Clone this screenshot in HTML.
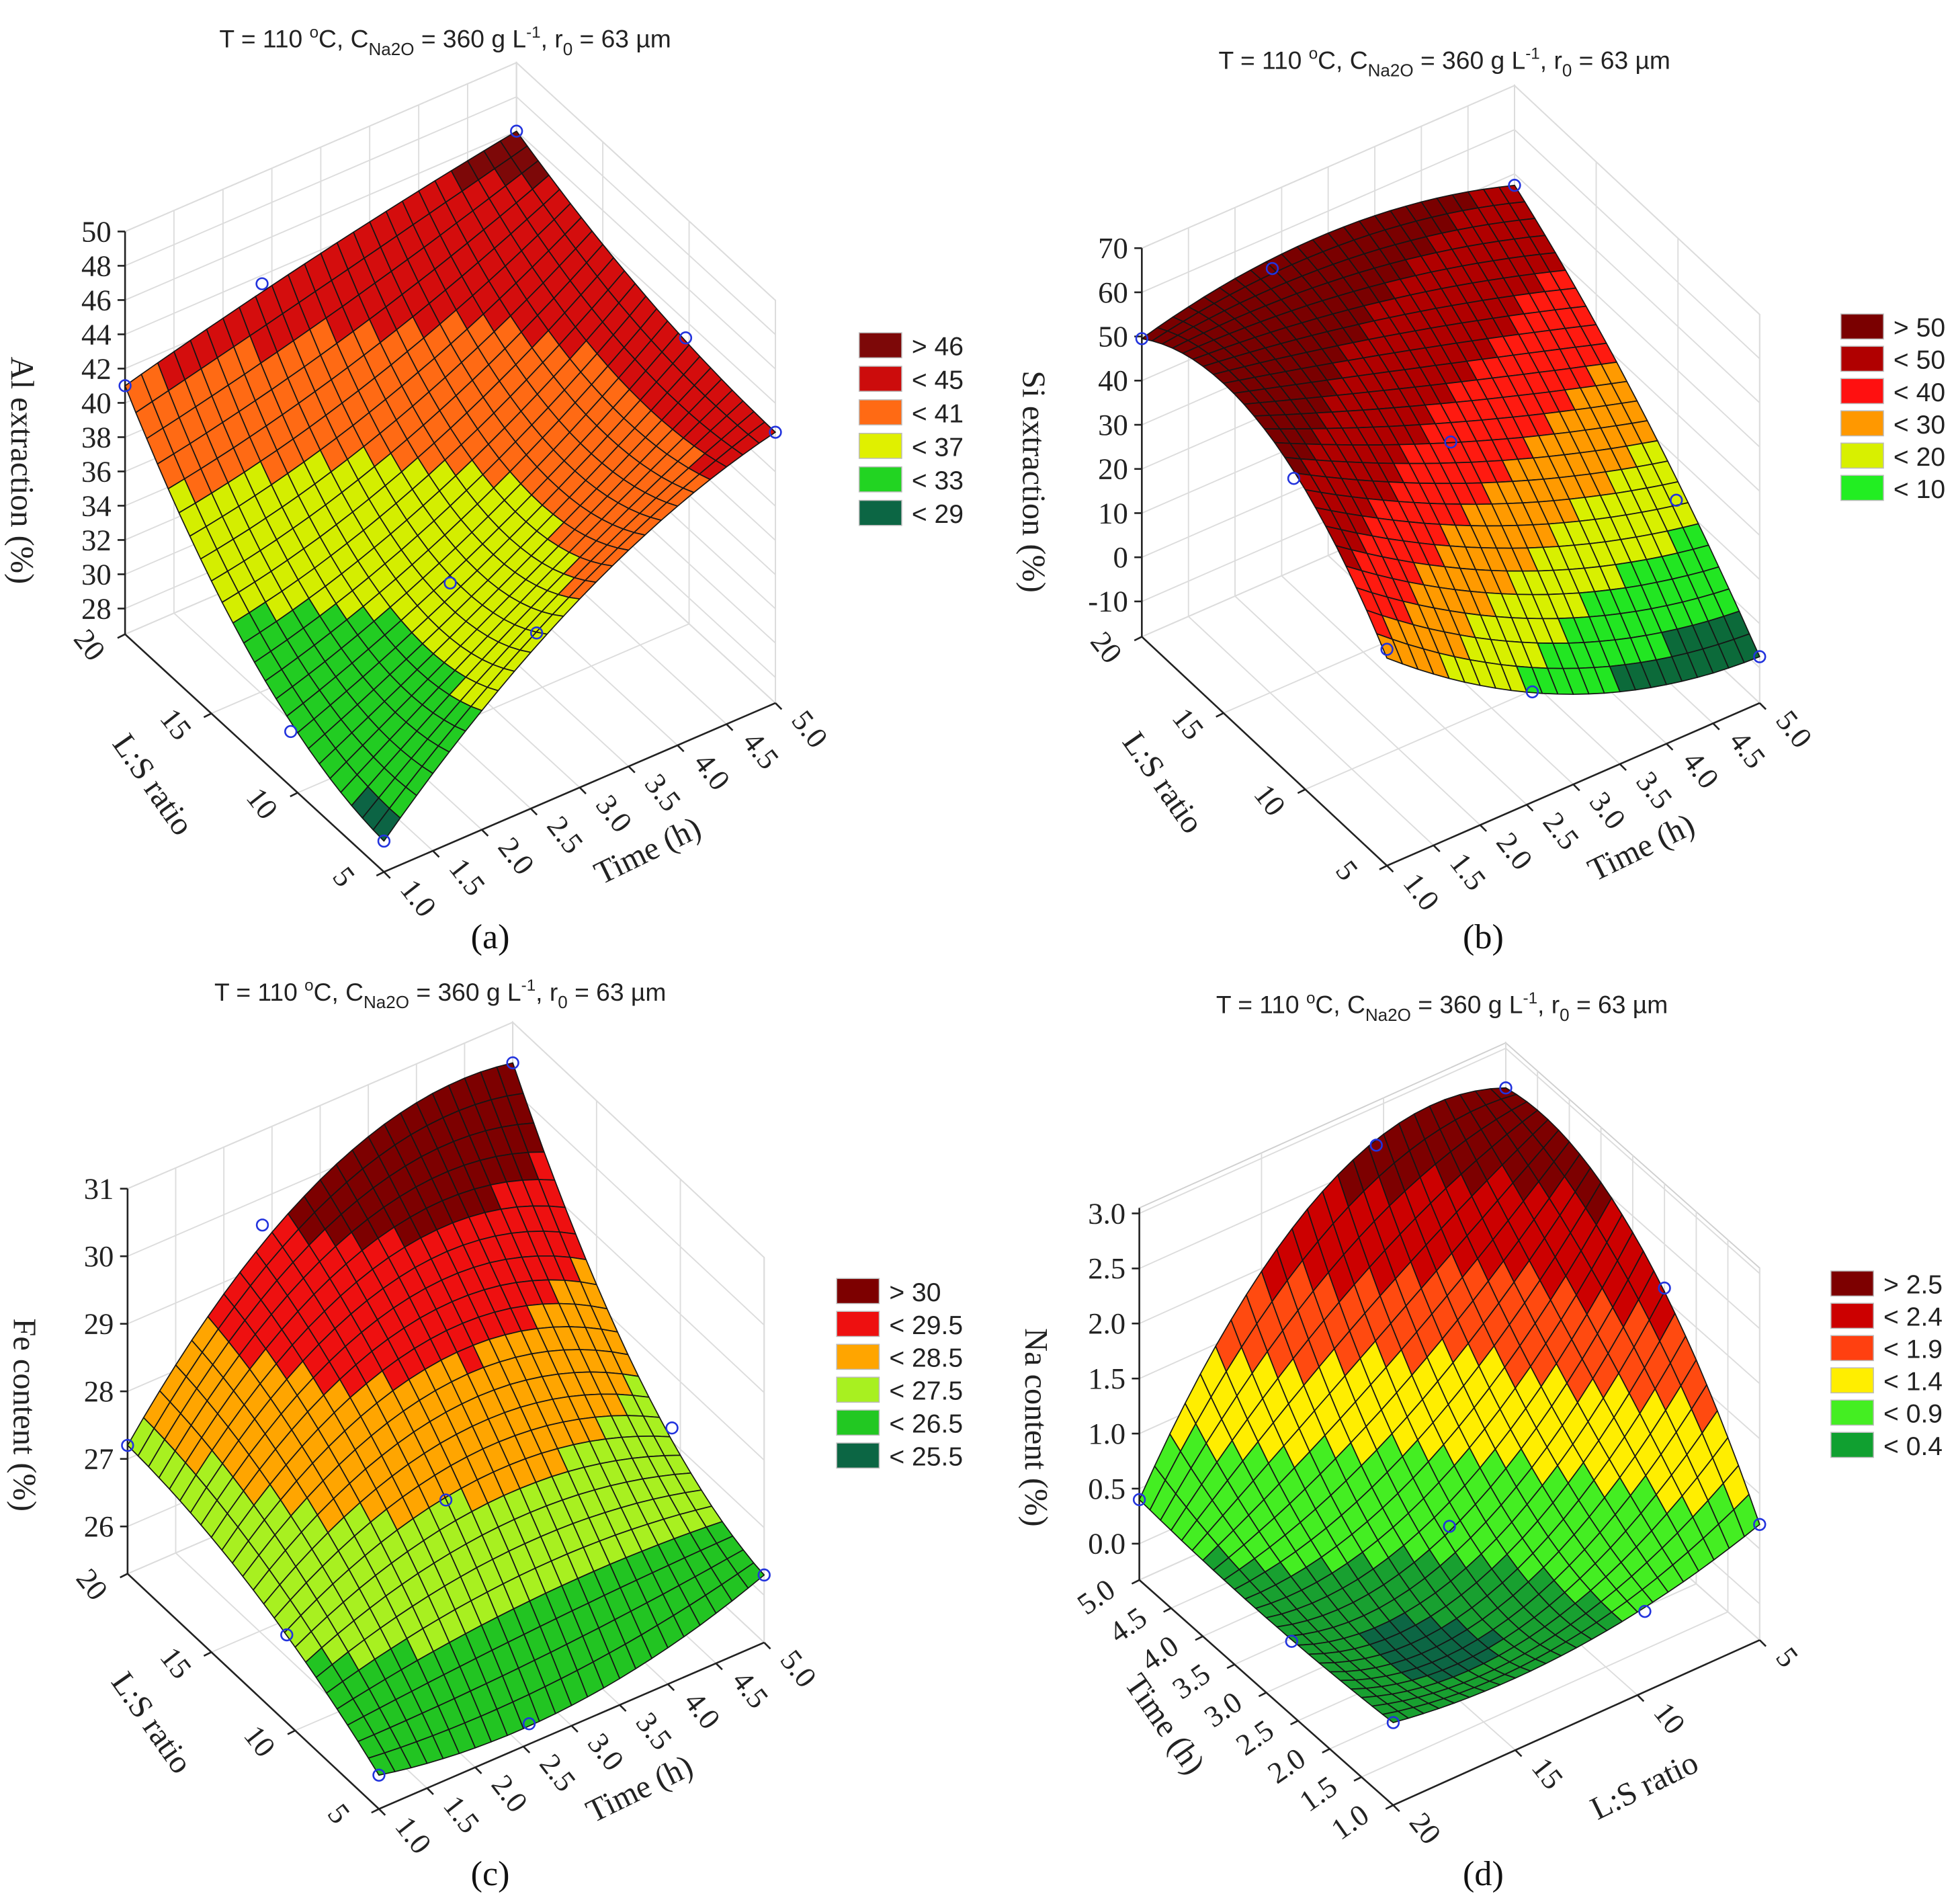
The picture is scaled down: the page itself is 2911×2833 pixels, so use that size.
<!DOCTYPE html>
<html><head><meta charset="utf-8"><title>Response surfaces</title>
<style>
html,body{margin:0;padding:0;background:#fff;}
svg{display:block;}
.tick{font-family:"Liberation Serif",serif;font-size:24px;fill:#222;}
.ttl{font-family:"Liberation Sans",sans-serif;font-size:20px;fill:#222;}
.leg{font-family:"Liberation Sans",sans-serif;font-size:21px;fill:#222;}
.axt{font-family:"Liberation Serif",serif;font-size:26px;fill:#222;}
.cap{font-family:"Liberation Serif",serif;font-size:28px;fill:#111;}
</style></head>
<body>
<svg id="fig" width="2911" height="2833" viewBox="0 0 1564 1522" preserveAspectRatio="none" xmlns="http://www.w3.org/2000/svg">
<rect x="0" y="0" width="1564" height="1522" fill="#fff"/>

<text class="ttl" x="356" y="38" text-anchor="middle">T = 110 <tspan dy="-8" font-size="13">o</tspan><tspan dy="8">C, C</tspan><tspan dy="6" font-size="14">Na2O</tspan><tspan dy="-6"> = 360 g L</tspan><tspan dy="-8" font-size="13">-1</tspan><tspan dy="8">, r</tspan><tspan dy="6" font-size="14">0</tspan><tspan dy="-6"> = 63 µm</tspan></text>
<text class="ttl" x="1155" y="55" text-anchor="middle">T = 110 <tspan dy="-8" font-size="13">o</tspan><tspan dy="8">C, C</tspan><tspan dy="6" font-size="14">Na2O</tspan><tspan dy="-6"> = 360 g L</tspan><tspan dy="-8" font-size="13">-1</tspan><tspan dy="8">, r</tspan><tspan dy="6" font-size="14">0</tspan><tspan dy="-6"> = 63 µm</tspan></text>
<text class="ttl" x="352" y="800" text-anchor="middle">T = 110 <tspan dy="-8" font-size="13">o</tspan><tspan dy="8">C, C</tspan><tspan dy="6" font-size="14">Na2O</tspan><tspan dy="-6"> = 360 g L</tspan><tspan dy="-8" font-size="13">-1</tspan><tspan dy="8">, r</tspan><tspan dy="6" font-size="14">0</tspan><tspan dy="-6"> = 63 µm</tspan></text>
<text class="ttl" x="1153" y="810" text-anchor="middle">T = 110 <tspan dy="-8" font-size="13">o</tspan><tspan dy="8">C, C</tspan><tspan dy="6" font-size="14">Na2O</tspan><tspan dy="-6"> = 360 g L</tspan><tspan dy="-8" font-size="13">-1</tspan><tspan dy="8">, r</tspan><tspan dy="6" font-size="14">0</tspan><tspan dy="-6"> = 63 µm</tspan></text>

<text class="axt" transform="translate(9,376) rotate(90)" text-anchor="middle">Al extraction  (%)</text>
<text class="axt" transform="translate(818,385) rotate(90)" text-anchor="middle">Si extraction  (%)</text>
<text class="axt" transform="translate(11,1131) rotate(90)" text-anchor="middle">Fe content (%)</text>
<text class="axt" transform="translate(820,1141) rotate(90)" text-anchor="middle">Na content (%)</text>

<text class="cap" x="392" y="758" text-anchor="middle">(a)</text>
<text class="cap" x="1186" y="758" text-anchor="middle">(b)</text>
<text class="cap" x="392" y="1507" text-anchor="middle">(c)</text>
<text class="cap" x="1186" y="1507" text-anchor="middle">(d)</text>

<g id="layer"></g>
</svg>

<script>
// Panel a: Al extraction; rows = L:S 20, 12.5, 5 ; cols = time 1, 3, 5 h
const alZ_LS20 = [41.0, 43.8, 46.0];
const alZ_LS12 = [31.8, 36.0, 43.3];
const alZ_LS5  = [28.3, 37.5, 42.3];
// Panel b: Si extraction
const siZ_LS20 = [49.5, 55.0, 47.4];
const siZ_LS12 = [55.0, 38.0, 24.5];
const siZ_LS5  = [29.0, 2.4, -7.5];
// Panel c: Fe content
const feZ_LS20 = [27.2, 29.9, 30.4];
const feZ_LS12 = [26.8, 28.2, 27.5];
const feZ_LS5  = [25.8, 25.6, 26.3];
// Panel d: Na content; rows = time 5, 3, 1 h ; cols = L:S 20, 12.5, 5
const naZ_T5 = [0.40, 2.45, 2.64];
const naZ_T3 = [0.35, 0.65, 2.35];
const naZ_T1 = [0.42, 0.35, 0.72];

const alZTicks = [28,30,32,34,36,38,40,42,44,46,48,50];
const siZTicks = [-10,0,10,20,30,40,50,60,70];
const feZTicks = [26,27,28,29,30,31];
const naZTicks = ["0.0","0.5","1.0","1.5","2.0","2.5","3.0"];
const timeTicks = ["1.0","1.5","2.0","2.5","3.0","3.5","4.0","4.5","5.0"];
const lsTicks = [20,15,10,5];

const alLegend = ["> 46","< 45","< 41","< 37","< 33","< 29"];
const siLegend = ["> 50","< 50","< 40","< 30","< 20","< 10"];
const feLegend = ["> 30","< 29.5","< 28.5","< 27.5","< 26.5","< 25.5"];
const naLegend = ["> 2.5","< 2.4","< 1.9","< 1.4","< 0.9","< 0.4"];

const alBounds = [29,33,37,41,45];
const siBounds = [0,10,20,30,40,50];
const feBounds = [25.5,26.5,27.5,28.5,29.5];
const naBounds = [0.2,0.4,0.9,1.4,1.9,2.4];

const alPtT = [1, 2.4, 5, 5, 5, 1, 1, 2.56, 3];
const alPtL = [20, 20, 20, 10.2, 5, 5, 10.4, 5, 12.5];
const alPtZ = [41.0, 43.5, 46.0, 43.0, 42.3, 28.3, 29.7, 36.6, 31.5];
const siPtT = [1, 2.4, 5, 5, 5, 1, 1, 2.56, 3];
const siPtL = [20, 20, 20, 10.1, 5, 5, 10.7, 5, 12.5];
const siPtZ = [49.5, 52.5, 47.4, 10.3, -7.5, 31.0, 50.0, 7.0, 33.6];
const fePtT = [1, 2.4, 5, 5, 5, 1, 1, 2.56, 3];
const fePtL = [20, 20, 20, 10.5, 5, 5, 10.5, 5, 12.5];
const fePtZ = [27.2, 29.6, 30.4, 27.2, 26.3, 25.8, 26.6, 25.6, 26.9];
const naPtT = [5, 5, 5, 2.5, 1, 1, 1, 2.6, 3];
const naPtL = [20, 10.3, 5, 5, 5, 20, 9.7, 20, 12.5];
const naPtZ = [0.40, 2.65, 2.64, 2.10, 0.72, 0.42, 0.40, 0.34, 0.43];

const fromTime = t => (t-1)/4;
const fromLS = l => (20-l)/15;
const PANELS = [
 {id:'a', L:[100,507], Vu:[313,-135], Vv:[207,190], zmin:26.5, zmax:50, k:13.7,
  rows:[alZ_LS20, alZ_LS12, alZ_LS5], zTicks:alZTicks, uTicks:timeTicks, vTicks:lsTicks,
  uFrac:v=>fromTime(+v), vFrac:v=>fromLS(+v), uTitle:'Time (h)', vTitle:'L:S ratio', vRot:52, vOff:[-42,4], vAnchor:'start',
  bounds:alBounds, colors:['#0c6444','#22cc22','#d4ee00','#ff6a14','#d40d0d','#7d0808'],
  legend:alLegend, legX:687, legY:266, legP:26.8, legColors:['#7d0808','#cc0c0c','#ff6a14','#e0f000','#22d422','#0c6644'],
  ptU:alPtT.map(fromTime), ptV:alPtL.map(fromLS), ptZ:alPtZ},
 {id:'b', L:[913,509], Vu:[298,-130], Vv:[196,183], zmin:-18, zmax:70, k:3.53,
  rows:[siZ_LS20, siZ_LS12, siZ_LS5], zTicks:siZTicks, uTicks:timeTicks, vTicks:lsTicks,
  uFrac:v=>fromTime(+v), vFrac:v=>fromLS(+v), uTitle:'Time (h)', vTitle:'L:S ratio', vRot:52, vOff:[-42,4], vAnchor:'start',
  bounds:siBounds, colors:['#0c6a3a','#22e622','#d8f000','#ff9a00','#ff1a10','#b00000','#7a0000'],
  legend:siLegend, legX:1472, legY:251, legP:25.8, legColors:['#7a0000','#b00000','#ff1010','#ff9800','#d8f000','#22ee22'],
  ptU:siPtT.map(fromTime), ptV:siPtL.map(fromLS), ptZ:siPtZ},
 {id:'c', L:[102,1258], Vu:[308,-133], Vv:[201,188], zmin:25.3, zmax:31.0, k:54,
  rows:[feZ_LS20, feZ_LS12, feZ_LS5], zTicks:feZTicks, uTicks:timeTicks, vTicks:lsTicks,
  uFrac:v=>fromTime(+v), vFrac:v=>fromLS(+v), uTitle:'Time (h)', vTitle:'L:S ratio', vRot:52, vOff:[-42,4], vAnchor:'start',
  bounds:feBounds, colors:['#0c6644','#22c422','#a8f020','#ffa500','#ee1010','#7d0000'],
  legend:feLegend, legX:669, legY:1022, legP:26.3, legColors:['#7d0000','#ee1010','#ffa500','#a8f020','#22c822','#0c6644'],
  ptU:fePtT.map(fromTime), ptV:fePtL.map(fromLS), ptZ:fePtZ},
 {id:'d', L:[911,1263], Vu:[293,-132], Vv:[203,180], zmin:-0.33, zmax:3.05, k:88,
  rows:[naZ_T5, naZ_T3, naZ_T1], zTicks:naZTicks, uTicks:lsTicks, vTicks:timeTicks.slice().reverse(),
  uFrac:v=>fromLS(+v), vFrac:v=>(5-(+v))/4, uTitle:'L:S ratio', vTitle:'Time (h)', vRot:-35, vOff:[-30,20], vAnchor:'middle',
  bounds:naBounds, colors:['#0c6644','#18a030','#44ee22','#ffee00','#ff4a10','#cc0000','#7d0000'],
  legend:naLegend, legX:1464, legY:1016, legP:25.8, legColors:['#7d0000','#cc0000','#ff4010','#ffee00','#44ee22','#10a030'],
  ptU:naPtL.map(fromLS), ptV:naPtT.map(t=>(5-t)/4), ptZ:naPtZ}
];

const NS = 'http://www.w3.org/2000/svg';
const layer = document.getElementById('layer');
function mk(tag, attrs, parent){
  const el = document.createElementNS(NS, tag);
  for (const a in attrs) el.setAttribute(a, attrs[a]);
  (parent||layer).appendChild(el);
  return el;
}
function proj(p,u,v,z){
  return [p.L[0]+u*p.Vu[0]+v*p.Vv[0], p.L[1]+u*p.Vu[1]+v*p.Vv[1]-(z-p.zmin)*p.k];
}
function lb(s,i){
  if(i===0) return 2*(s-0.5)*(s-1);
  if(i===1) return -4*s*(s-1);
  return 2*s*(s-0.5);
}
function zAt(p,u,v){
  let z=0;
  for(let i=0;i<3;i++) for(let j=0;j<3;j++) z+=lb(v,i)*lb(u,j)*p.rows[i][j];
  return z;
}
function colorFor(p,z){
  for(let i=0;i<p.bounds.length;i++) if(z<p.bounds[i]) return p.colors[i];
  return p.colors[p.colors.length-1];
}
const pts = a => a.map(q=>q[0].toFixed(1)+','+q[1].toFixed(1)).join(' ');

PANELS.forEach(p=>{
  const g = mk('g',{});
  
  

  const wallL = mk('polygon',{points:pts([proj(p,0,0,p.zmin),proj(p,1,0,p.zmin),proj(p,1,0,p.zmax),proj(p,0,0,p.zmax)]),fill:'#fff',stroke:'#cfcfcf','stroke-width':1},g);
  
  
  const wallR = mk('polygon',{points:pts([proj(p,1,0,p.zmin),proj(p,1,1,p.zmin),proj(p,1,1,p.zmax),proj(p,1,0,p.zmax)]),fill:'#fff',stroke:'#cfcfcf','stroke-width':1},g);
  
  

  const grid = mk('g',{stroke:'#dcdcdc','stroke-width':1,fill:'none'},g);
  
  
  p.uTicks.forEach(t=>{
    const f=p.uFrac(t);
    mk('polyline',{points:pts([proj(p,f,0,p.zmax),proj(p,f,0,p.zmin),proj(p,f,1,p.zmin)])},grid);
  });
  p.vTicks.forEach(t=>{
    const f=p.vFrac(t);
    mk('polyline',{points:pts([proj(p,1,f,p.zmax),proj(p,1,f,p.zmin),proj(p,0,f,p.zmin)])},grid);
  });
  p.zTicks.forEach(t=>{
    const z=+t;
    mk('polyline',{points:pts([proj(p,0,0,z),proj(p,1,0,z),proj(p,1,1,z)])},grid);
  });

  const ax = mk('g',{stroke:'#222','stroke-width':1.4,fill:'none'},g);
  
  
  mk('polyline',{points:pts([proj(p,0,0,p.zmax),proj(p,0,0,p.zmin),proj(p,0,1,p.zmin),proj(p,1,1,p.zmin)])},ax);

  p.zTicks.forEach(t=>{
    const q=proj(p,0,0,+t);
    mk('line',{x1:q[0],y1:q[1],x2:q[0]-6,y2:q[1]},ax);
    const tx=mk('text',{class:'tick',x:q[0]-11,y:q[1]+8,'text-anchor':'end'},g);
    tx.textContent=t;
    
    
  });
  p.uTicks.forEach(t=>{
    const q=proj(p,p.uFrac(t),1,p.zmin);
    mk('line',{x1:q[0],y1:q[1],x2:q[0]+5,y2:q[1]+5},ax);
    const tx=mk('text',{class:'tick',transform:`translate(${(q[0]+12).toFixed(1)},${(q[1]+14).toFixed(1)}) rotate(52)`,'text-anchor':'start'},g);
    tx.textContent=t;
    
    
  });
  p.vTicks.forEach(t=>{
    const q=proj(p,0,p.vFrac(t),p.zmin);
    mk('line',{x1:q[0],y1:q[1],x2:q[0]-6,y2:q[1]+3},ax);
    const tx=mk('text',{class:'tick',transform:`translate(${(q[0]+p.vOff[0]).toFixed(1)},${(q[1]+p.vOff[1]).toFixed(1)}) rotate(${p.vRot})`,'text-anchor':p.vAnchor},g);
    tx.textContent=t;
    
    
  });
  const mU=proj(p,0.5,1,p.zmin), mV=proj(p,0,0.5,p.zmin);
  const ut=mk('text',{class:'axt',transform:`translate(${mU[0]+58},${mU[1]+58}) rotate(-26)`,'text-anchor':'middle'},g);
  ut.textContent=p.uTitle;
  
  
  const vt=mk('text',{class:'axt',transform:`translate(${mV[0]-88},${mV[1]+30}) rotate(55)`,'text-anchor':'middle'},g);
  vt.textContent=p.vTitle;
  
  

  const N=24, cells=[];
  for(let i=0;i<N;i++) for(let j=0;j<N;j++){
    const u0=j/N,u1=(j+1)/N,v0=i/N,v1=(i+1)/N;
    const zs=[zAt(p,u0,v0),zAt(p,u1,v0),zAt(p,u1,v1),zAt(p,u0,v1)];
    const zc=zAt(p,(u0+u1)/2,(v0+v1)/2);
    const depth=proj(p,(u0+u1)/2,(v0+v1)/2,p.zmin)[1];
    cells.push({poly:[proj(p,u0,v0,zs[0]),proj(p,u1,v0,zs[1]),proj(p,u1,v1,zs[2]),proj(p,u0,v1,zs[3])],z:zc,depth});
  }
  cells.sort((a,b)=>a.depth-b.depth);
  const surf=mk('g',{stroke:'#151515','stroke-width':0.9,'stroke-linejoin':'round'},g);
  
  
  cells.forEach(c=>{
    const el=mk('polygon',{points:pts(c.poly),fill:colorFor(p,c.z)},surf);
    
    
  });

  p.ptZ.forEach((z,i)=>{
    const q=proj(p,p.ptU[i],p.ptV[i],z);
    const c=mk('circle',{cx:q[0],cy:q[1],r:4.5,fill:'none',stroke:'#2233dd','stroke-width':1.4},g);
    
    
  });

  const lg=mk('g',{},g);
  
  
  p.legend.forEach((lab,i)=>{
    const y=p.legY+i*p.legP;
    const r=mk('rect',{x:p.legX,y:y,width:34,height:20,fill:p.legColors[i],stroke:'#bbb','stroke-width':0.8},lg);
    
    
    const t=mk('text',{class:'leg',x:p.legX+42,y:y+18},lg);
    t.textContent=lab;
    
    
  });
});
</script>
</body></html>
